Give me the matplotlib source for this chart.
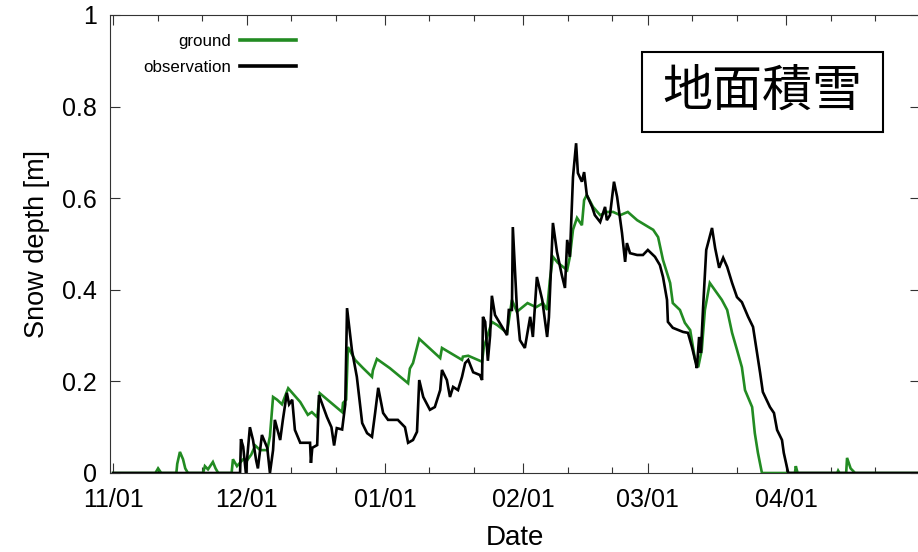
import datetime as dt
import matplotlib
matplotlib.use("Agg")
import matplotlib.pyplot as plt
import matplotlib.dates as mdates
from matplotlib.patches import Rectangle
from matplotlib.ticker import FuncFormatter

plt.rcParams["font.family"] = ["Liberation Sans", "DejaVu Sans"]

# ---------------- data (days since 11/01, snow depth in m) ----------------
season_start = dt.datetime(2018, 11, 1)

ground_days = [0, 9.5, 10.1, 10.8, 14.2, 14.4, 15.0, 15.7, 16.2, 16.8, 20.2, 20.6, 21.3, 22.4, 23.0,
               23.6, 26.6, 26.9, 27.8, 29.2, 30.1, 31.0, 31.9, 33.0, 34.6, 35.2, 35.9, 36.8, 37.9,
               39.3, 42.0, 43.7, 44.6, 45.8, 46.4, 51.4, 51.6, 52.3, 52.7, 54.3, 56.1, 58.1, 58.3,
               59.2, 62.1, 66.2, 66.6, 67.3, 68.7, 73.4, 73.8, 78.3, 78.5, 79.7, 82.8, 83.2, 85.0,
               86.2, 88.4, 89.5, 90.6, 93.0, 94.9, 96.5, 97.4, 98.0, 98.7, 99.8, 101.9, 102.5,
               103.2, 104.1, 105.2, 105.7, 106.3, 107.7, 109.3, 110.8, 112.2, 113.8, 115.5, 117.6,
               120.5, 121.2, 122.3, 123.4, 125.0, 125.6, 127.2, 128.3, 129.5, 130.6, 131.3, 132.1,
               132.8, 133.9, 135.5, 136.6, 137.8, 138.9, 140.0, 141.1, 141.8, 143.4, 144.0, 144.7,
               145.6, 153.0, 153.2, 153.6, 162.5, 162.7, 163.0, 164.5, 164.7, 165.5, 166.5, 181]
ground_depth = [0, 0, 0.01, 0, 0, 0.02, 0.046, 0.03, 0.01, 0, 0, 0.015, 0.008, 0.024, 0.01,
                0, 0, 0.03, 0.015, 0.03, 0.028, 0.04, 0.06, 0.05, 0.05, 0.08, 0.166, 0.16, 0.15,
                0.185, 0.155, 0.127, 0.133, 0.122, 0.174, 0.133, 0.153, 0.16, 0.275, 0.247, 0.229,
                0.21, 0.224, 0.249, 0.229, 0.196, 0.228, 0.24, 0.293, 0.251, 0.273, 0.247, 0.254,
                0.256, 0.243, 0.275, 0.33, 0.323, 0.306, 0.378, 0.352, 0.371, 0.362, 0.371, 0.356,
                0.42, 0.472, 0.459, 0.443, 0.472, 0.531, 0.557, 0.541, 0.596, 0.607, 0.581, 0.563,
                0.57, 0.57, 0.563, 0.57, 0.552, 0.535, 0.531, 0.515, 0.465, 0.415, 0.371, 0.356,
                0.328, 0.312, 0.247, 0.231, 0.269, 0.356, 0.415, 0.393, 0.378, 0.356, 0.306, 0.269,
                0.231, 0.181, 0.144, 0.087, 0.044, 0, 0, 0.015, 0, 0, 0.005, 0, 0, 0.033, 0.01, 0, 0]

obs_days = [0, 28.5, 28.7, 29.2, 29.8, 30.7, 31.4, 32.1, 32.5, 33.4, 34.6, 35.2, 35.9, 36.3, 37.5,
            38.1, 39.0, 39.5, 40.2, 40.8, 42.0, 44.2, 44.4, 44.7, 45.8, 46.2, 48.0, 49.0, 49.6,
            50.2, 51.4, 52.1, 52.5, 53.6, 54.7, 55.9, 57.0, 58.1, 58.8, 59.5, 60.6, 61.7, 63.9,
            65.5, 66.2, 67.3, 68.2, 68.7, 69.6, 71.1, 72.2, 73.4, 73.8, 74.9, 75.6, 76.3, 77.4,
            78.3, 79.0, 79.7, 80.8, 82.3, 82.8, 83.0, 83.5, 84.1, 84.6, 85.0, 85.7, 87.3, 88.4,
            88.8, 89.5, 89.7, 90.6, 91.3, 92.4, 93.6, 94.2, 95.1, 96.3, 97.4, 97.8, 98.7, 99.6,
            100.7, 101.4, 101.9, 102.5, 103.2, 103.9, 104.3, 105.2, 105.7, 106.3, 107.5, 108.1,
            109.3, 110.4, 110.8, 111.5, 112.4, 113.1, 114.2, 114.9, 115.3, 116.0, 117.6, 118.9,
            120.0, 121.6, 122.7, 123.4, 124.3, 124.5, 125.6, 127.9, 129.0, 129.9, 130.6, 131.0,
            131.5, 131.9, 132.4, 133.1, 133.5, 134.4, 135.1, 136.0, 136.9, 137.8, 138.9, 140.0,
            141.1, 142.5, 143.6, 144.5, 145.2, 145.8, 147.4, 148.3, 149.0, 150.1, 150.5, 151.5, 181]
obs_depth = [0, 0, 0.074, 0.057, 0, 0.1, 0.072, 0.028, 0.01, 0.083, 0.055, 0, 0.05, 0.116, 0.072,
             0.116, 0.175, 0.15, 0.16, 0.094, 0.066, 0.066, 0.022, 0.055, 0.061, 0.17, 0.122, 0.1,
             0.06, 0.098, 0.095, 0.15, 0.36, 0.268, 0.21, 0.109, 0.087, 0.079, 0.131, 0.186,
             0.131, 0.116, 0.116, 0.1, 0.066, 0.072, 0.09, 0.203, 0.166, 0.138, 0.144, 0.181,
             0.225, 0.203, 0.166, 0.188, 0.181, 0.21, 0.24, 0.247, 0.22, 0.214, 0.203, 0.341,
             0.33, 0.245, 0.30, 0.387, 0.345, 0.319, 0.301, 0.356, 0.356, 0.537, 0.362, 0.29,
             0.273, 0.341, 0.297, 0.428, 0.378, 0.297, 0.34, 0.546, 0.483, 0.432, 0.404, 0.509,
             0.472, 0.646, 0.72, 0.655, 0.636, 0.657, 0.607, 0.581, 0.563, 0.548, 0.581, 0.552,
             0.563, 0.636, 0.603, 0.524, 0.461, 0.502, 0.48, 0.476, 0.476, 0.487, 0.472, 0.454,
             0.428, 0.378, 0.33, 0.317, 0.308, 0.306, 0.275, 0.247, 0.229, 0.297, 0.262, 0.362,
             0.487, 0.502, 0.535, 0.491, 0.448, 0.47, 0.45, 0.415, 0.384, 0.373, 0.341, 0.319,
             0.262, 0.218, 0.177, 0.144, 0.131, 0.094, 0.072, 0.044, 0, 0]

series_labels = ["ground", "observation"]
series_colors = ["#228b22", "#000000"]
y_ticks = [0, 0.2, 0.4, 0.6, 0.8, 1.0]
label_months = [11, 12, 1, 2, 3, 4]
panel_title = "地面積雪"

# ---------------- figure ----------------
fig = plt.figure(figsize=(9.18, 5.52), dpi=100)
W, H = 918, 552
ax_l, ax_r, ax_t, ax_b = 109.5, 919.7, 15, 473
ax = fig.add_axes([ax_l / W, (H - ax_b) / H, (ax_r - ax_l) / W, (ax_b - ax_t) / H])


def to_dates(days):
    return [season_start + dt.timedelta(days=d) for d in days]


ax.plot(to_dates(ground_days), ground_depth, color=series_colors[0], lw=1.9,
        label=series_labels[0], solid_joinstyle="miter")
ax.plot(to_dates(obs_days), obs_depth, color=series_colors[1], lw=1.9,
        label=series_labels[1], solid_joinstyle="miter")

ax.set_xlim(season_start - dt.timedelta(days=0.8), dt.datetime(2019, 5, 1))
ax.set_ylim(0, 1)

ax.xaxis.set_major_locator(mdates.MonthLocator(bymonth=label_months))
ax.xaxis.set_major_formatter(mdates.DateFormatter("%m/%d"))
ax.xaxis.set_minor_locator(mdates.DayLocator(bymonthday=[11, 21]))
ax.set_yticks(y_ticks)
ax.yaxis.set_major_formatter(FuncFormatter(lambda v, p: f"{v:g}"))

ax.tick_params(which="both", direction="in", top=True, right=True, colors="#333333",
               labelcolor="black", width=0.8)
ax.tick_params(axis="x", which="major", length=7, labelsize=18, pad=11)
ax.tick_params(axis="x", which="minor", length=4)
ax.tick_params(axis="y", which="major", length=7, labelsize=18, pad=9)
for s in ax.spines.values():
    s.set_linewidth(0.8)
    s.set_color("#333333")

ax.set_xlabel("Date", fontsize=20, labelpad=9)
ax.set_ylabel("Snow depth [m]", fontsize=19.5, labelpad=9)

leg = ax.legend(loc="upper left", bbox_to_anchor=((143 - ax_l) / (ax_r - ax_l), (ax_b - 34) / (ax_b - ax_t)),
                frameon=False, markerfirst=False, fontsize=12.2, handlelength=3.3,
                handletextpad=0.55, labelspacing=0.62, borderpad=0, borderaxespad=0)
for line in leg.get_lines():
    line.set_linewidth(2.6)

bx0, bx1, by0, by1 = 642, 883, 52, 132
ax.add_patch(Rectangle(((bx0 - ax_l) / (ax_r - ax_l), (ax_b - by1) / (ax_b - ax_t)),
                       (bx1 - bx0) / (ax_r - ax_l), (by1 - by0) / (ax_b - ax_t),
                       transform=ax.transAxes, fill=True, facecolor="white",
                       edgecolor="black", lw=1.5, zorder=5))
ax.text(((bx0 + bx1) / 2 - ax_l) / (ax_r - ax_l), (ax_b - (by0 + by1) / 2) / (ax_b - ax_t),
        panel_title, transform=ax.transAxes, ha="center", va="center", fontsize=36,
        family=["Noto Sans CJK JP", "DejaVu Sans"], zorder=6)

fig.savefig("out.png", dpi=100)
